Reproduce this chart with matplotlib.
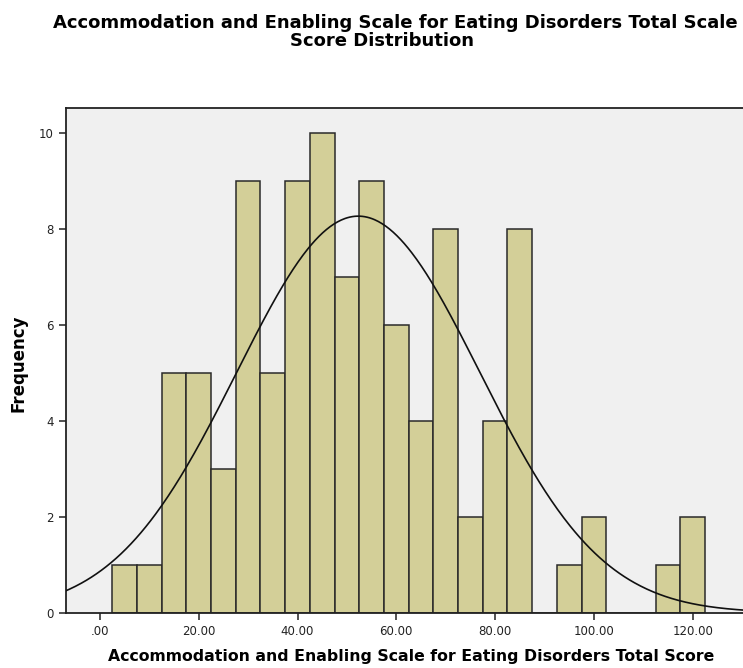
import numpy as np
import matplotlib
matplotlib.use("Agg")
import matplotlib.pyplot as plt

# Histogram data (bin width 5)
bin_left_edges = [2.5, 7.5, 12.5, 17.5, 22.5, 27.5, 32.5, 37.5, 42.5, 47.5, 52.5,
                  57.5, 62.5, 67.5, 72.5, 77.5, 82.5, 87.5, 92.5, 97.5, 102.5,
                  107.5, 112.5, 117.5]
frequencies = [1, 1, 5, 5, 3, 9, 5, 9, 10, 7, 9, 6, 4, 8, 2, 4, 8, 0, 1, 2, 0, 0, 1, 2]
bin_width = 5.0
mean_score = 52.3
sd_score = 24.6
n_total = sum(frequencies)

x_ticks = [0, 20, 40, 60, 80, 100, 120]
x_tick_labels = [".00", "20.00", "40.00", "60.00", "80.00", "100.00", "120.00"]
y_ticks = [0, 2, 4, 6, 8, 10]

fig = plt.figure(figsize=(7.43, 6.68), dpi=100)
ax = fig.add_axes([65.7 / 743, 55.3 / 668, 1 - 65.7 / 743 + 0.002, (612.7 - 108.3) / 668])
ax.set_facecolor("#f0f0f0")

ax.bar(bin_left_edges, frequencies, width=bin_width, align="edge",
       color="#d3cf98", edgecolor="#2a2a2a", linewidth=1.1, zorder=2)

xs = np.linspace(-10, 140, 600)
ys = n_total * bin_width / (sd_score * np.sqrt(2 * np.pi)) * np.exp(-0.5 * ((xs - mean_score) / sd_score) ** 2)
ax.plot(xs, ys, color="#111111", linewidth=1.2, zorder=3)

ax.set_xlim(-6.94, 130.5)
ax.set_ylim(0, 10.52)
ax.set_xticks(x_ticks)
ax.set_xticklabels(x_tick_labels)
ax.set_yticks(y_ticks)
ax.tick_params(axis="both", direction="out", length=5, width=1.2, colors="#333333",
               labelsize=8.5, labelcolor="#222222")
ax.tick_params(axis="x", pad=4)
for side in ["top", "left", "bottom"]:
    ax.spines[side].set_color("#222222")
    ax.spines[side].set_linewidth(1.3)
ax.spines["right"].set_visible(False)

fig.text(395 / 743, 1 - 22.5 / 668,
         "Accommodation and Enabling Scale for Eating Disorders Total Scale",
         ha="center", va="center", fontsize=13.0, fontweight="bold")
fig.text(382.5 / 743, 1 - 40.5 / 668,
         "Score Distribution",
         ha="center", va="center", fontsize=13.0, fontweight="bold")
fig.text(411 / 743, 1 - 656 / 668,
         "Accommodation and Enabling Scale for Eating Disorders Total Score",
         ha="center", va="center", fontsize=11.35, fontweight="bold")
fig.text(19 / 743, 1 - 363 / 668, "Frequency", rotation=90,
         ha="center", va="center", fontsize=12, fontweight="bold")

fig.savefig("out.png", dpi=100)
